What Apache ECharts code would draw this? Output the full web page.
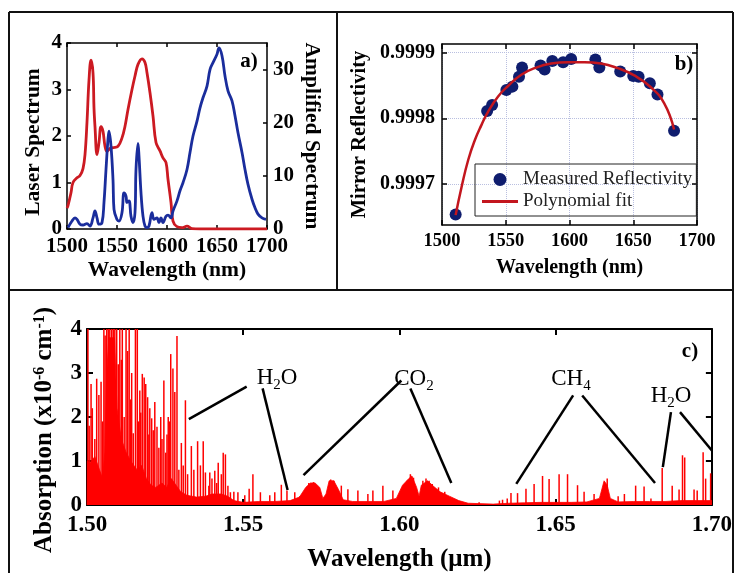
<!DOCTYPE html>
<html>
<head>
<meta charset="utf-8">
<script src="https://cdn.jsdelivr.net/npm/echarts@6.0.0/dist/echarts.min.js"></script>
<style>
    html, body { margin: 0; padding: 0; background: #fff; }
    #main { width: 735px; height: 573px; }
</style>
</head>
<body>
<div id="main"></div>
<script>
// a) laser / amplified spectra, [wavelength nm, value]
var laserSpectrum = [
    [1500, 0.45], [1501, 0.5], [1504, 0.78], [1506, 1.0], [1510, 1.1], [1513, 1.15], [1516, 1.3],
    [1518, 1.6], [1520, 2.3], [1522, 3.2], [1524, 3.63], [1526, 3.36], [1527, 2.6], [1528, 2.2],
    [1530, 1.6], [1532, 1.86], [1534, 2.2], [1536, 2.1], [1538, 1.78], [1540, 1.67], [1543, 1.73],
    [1546, 1.75], [1551, 1.78], [1555, 1.96], [1558, 2.21], [1561, 2.57], [1565, 3.0], [1568, 3.29],
    [1571, 3.54], [1575, 3.66], [1578, 3.58], [1580, 3.36], [1583, 2.93], [1586, 2.43], [1589, 1.86],
    [1593, 1.68], [1596, 1.53], [1599, 1.43], [1601, 1.07], [1604, 0.57], [1606, 0.17], [1610, 0.05],
    [1615, 0.03], [1620, 0.06], [1625, 0.01], [1633, 0], [1700, 0]
];
var amplifiedSpectrum = [
    [1501, 0.25], [1505, 1.5], [1508, 2.1], [1510, 1.8], [1513, 0.9], [1516, 0.75], [1520, 1.0],
    [1523, 0.56], [1526, 2.1], [1528, 3.4], [1530, 2.1], [1532, 0.9], [1535, 1.2], [1537, 5.0],
    [1539, 11.2], [1541, 16.9], [1542, 18.4], [1544, 15.6], [1546, 9.3], [1547, 3.7], [1550, 1.8],
    [1552, 1.5], [1555, 3.1], [1557, 6.8], [1559, 6.2], [1560, 5.0], [1562, 5.3], [1564, 2.4],
    [1566, 1.2], [1568, 3.1], [1569, 11.2], [1571, 16.1], [1572, 13.7], [1574, 6.8], [1576, 2.4],
    [1578, 0.56], [1580, 0.25], [1582, 0.56], [1585, 3.1], [1587, 1.8], [1590, 2.1], [1592, 1.2],
    [1594, 2.1], [1596, 1.2], [1599, 2.4], [1601, 2.6], [1604, 2.1], [1606, 3.4], [1610, 5.3],
    [1613, 7.2], [1616, 8.7], [1620, 11.2], [1623, 14.4], [1626, 17.5], [1630, 20.3], [1633, 22.8],
    [1636, 24.7], [1640, 26.9], [1643, 30.0], [1646, 31.3], [1650, 32.9], [1652, 34.1], [1655, 32.6],
    [1658, 28.8], [1661, 26.0], [1665, 24.1], [1668, 21.3], [1671, 18.1], [1675, 14.4], [1678, 11.2],
    [1681, 8.4], [1685, 5.6], [1688, 4.0], [1691, 2.8], [1695, 2.1], [1699, 1.8]
];

// b) mirror reflectivity
var mirrorMeasured = [
    [1510.7, 0.999654], [1535.4, 0.999811], [1539.3, 0.999820], [1550.5, 0.999843], [1555.2, 0.999848],
    [1560.4, 0.999863], [1562.8, 0.999877], [1577.3, 0.999880], [1580.5, 0.999874], [1586.5, 0.999887],
    [1595.0, 0.999885], [1601.3, 0.999890], [1620.3, 0.999889], [1623.4, 0.999877], [1639.8, 0.999871],
    [1650.0, 0.999864], [1654.2, 0.999863], [1663.0, 0.999853], [1669.0, 0.999836], [1682.0, 0.999781]
];
var mirrorFit = [
    [1510.7, 0.999653], [1515.4, 0.999696], [1520.6, 0.999737], [1525.8, 0.999767], [1531.0, 0.999790],
    [1536.2, 0.999810], [1544.0, 0.999833], [1551.8, 0.999849], [1562.2, 0.999866], [1572.7, 0.999876],
    [1585.7, 0.999883], [1598.7, 0.999885], [1611.7, 0.999885], [1624.7, 0.999883], [1637.8, 0.999876],
    [1650.8, 0.999865], [1663.8, 0.999847], [1674.2, 0.999823], [1682.0, 0.999783]
];
var reflectivityTicks = [0.9997, 0.9998, 0.9999];

// c) absorption spectrum, [wavelength um, 1e-6 cm-1]
var absorptionLines = [
    [1.5003, 4], [1.5007, 1.8], [1.5013, 2.75], [1.5017, 2.2], [1.5020, 1.0], [1.5025, 1.5],
    [1.5031, 2.87], [1.5038, 2.5], [1.5045, 2.8], [1.5050, 1.9], [1.5054, 4],
    [1.5058, 3.85], [1.5063, 4], [1.5068, 4], [1.5073, 4], [1.5079, 4], [1.5084, 4], [1.5089, 4],
    [1.5095, 4], [1.5100, 3.2], [1.5105, 4], [1.5110, 3.3], [1.5113, 4], [1.5119, 2.0], [1.5125, 4],
    [1.5130, 3.5], [1.5135, 4], [1.5140, 2.4], [1.5143, 3.0], [1.5148, 1.63], [1.5155, 4], [1.5161, 4],
    [1.5165, 1.9], [1.5169, 2.6], [1.5172, 2.1], [1.5177, 2.98], [1.5183, 2.9], [1.5188, 2.75],
    [1.5194, 2.45], [1.5198, 1.6], [1.5201, 2.2], [1.5207, 1.97], [1.5212, 1.7], [1.5217, 2.34],
    [1.5224, 1.78], [1.5230, 1.3], [1.5236, 2.0], [1.5240, 1.5], [1.5246, 2.83], [1.5252, 1.19],
    [1.5256, 1.6], [1.5260, 2.0], [1.5264, 1.9], [1.5268, 3.43], [1.5275, 3.1], [1.5281, 2.57],
    [1.5288, 3.84], [1.5294, 0.8], [1.5302, 1.41], [1.5308, 0.9], [1.5315, 2.38], [1.5322, 0.7],
    [1.5334, 1.34], [1.5342, 0.8], [1.5354, 1.45], [1.5363, 0.9], [1.5372, 1.45], [1.5379, 0.74],
    [1.5390, 0.44], [1.5393, 0.74], [1.5400, 0.6], [1.5409, 0.78], [1.5415, 0.5], [1.5420, 0.96],
    [1.5430, 0.7], [1.5436, 1.19], [1.5443, 1.15], [1.5451, 0.44], [1.5459, 0.29], [1.5470, 0.3],
    [1.5483, 0.29], [1.5505, 0.22], [1.5519, 0.37], [1.5531, 0.7], [1.5555, 0.29],
    [1.5585, 0.22], [1.5601, 0.29], [1.5622, 0.46], [1.5640, 0.33], [1.5665, 0.29], [1.5681, 0.2],
    [1.5710, 0.5], [1.5725, 0.52], [1.5780, 0.58], [1.5790, 0.55],
    [1.5814, 0.44], [1.5835, 0.36], [1.5867, 0.33], [1.5899, 0.25], [1.5915, 0.33], [1.5947, 0.44],
    [1.5979, 0.33], [1.6025, 0.55], [1.6035, 0.7], [1.6045, 0.62], [1.6075, 0.55], [1.6085, 0.6],
    [1.6095, 0.55], [1.6105, 0.48], [1.6125, 0.4], [1.6145, 0.3],
    [1.6255, 0.06], [1.6320, 0.1], [1.6330, 0.12], [1.6345, 0.15],
    [1.6357, 0.27], [1.6378, 0.27], [1.6405, 0.37], [1.6431, 0.48], [1.6458, 0.66], [1.6479, 0.59],
    [1.6511, 0.7], [1.6538, 0.7], [1.6570, 0.45], [1.6591, 0.3], [1.6623, 0.25], [1.6665, 0.6],
    [1.6700, 0.2], [1.6720, 0.25], [1.6756, 0.44], [1.6783, 0.42], [1.6805, 0.15], [1.6841, 0.84],
    [1.6873, 0.44], [1.6895, 0.35], [1.6906, 1.13], [1.6913, 1.08], [1.6943, 0.35], [1.6953, 0.33],
    [1.6972, 1.2], [1.6980, 0.6], [1.6996, 0.72]
];
// filled background under the lines
var absorptionFloor = [
    [1.5000, 0], [1.5001, 1.0], [1.5010, 0.95], [1.5025, 1.1], [1.5040, 0.8], [1.5050, 0.6],
    [1.5057, 1.2], [1.5063, 3.0], [1.5070, 3.8], [1.5088, 3.8], [1.5096, 2.2], [1.5110, 1.5],
    [1.5125, 1.2], [1.5140, 1.0], [1.5150, 0.9], [1.5160, 0.8], [1.5175, 0.9], [1.5190, 0.6],
    [1.5205, 0.45], [1.5220, 0.4], [1.5240, 0.5], [1.5255, 0.4], [1.5270, 0.6], [1.5285, 0.45],
    [1.5300, 0.3], [1.5320, 0.22], [1.5350, 0.18], [1.5380, 0.2], [1.5400, 0.25], [1.5430, 0.25],
    [1.5450, 0.2], [1.5470, 0.1], [1.5500, 0.06], [1.5550, 0.08], [1.5600, 0.08], [1.5650, 0.1],
    [1.5680, 0.18], [1.5700, 0.4], [1.5715, 0.5], [1.5730, 0.5], [1.5745, 0.4], [1.5755, 0.15],
    [1.5765, 0.25], [1.5775, 0.55], [1.5790, 0.55], [1.5805, 0.35], [1.5820, 0.12], [1.5850, 0.08],
    [1.5900, 0.08], [1.5950, 0.08], [1.5990, 0.15], [1.6010, 0.45], [1.6030, 0.6], [1.6040, 0.66],
    [1.6055, 0.4], [1.6063, 0.2], [1.6070, 0.45], [1.6090, 0.55], [1.6110, 0.42], [1.6130, 0.3],
    [1.6160, 0.2], [1.6190, 0.1], [1.6220, 0.04], [1.6300, 0.02], [1.6350, 0.04], [1.6400, 0.05],
    [1.6450, 0.06], [1.6500, 0.06], [1.6550, 0.06], [1.6600, 0.07], [1.6640, 0.15], [1.6655, 0.55],
    [1.6665, 0.45], [1.6675, 0.15], [1.6700, 0.07], [1.6750, 0.08], [1.6800, 0.08], [1.6850, 0.08],
    [1.6900, 0.1], [1.6950, 0.1], [1.7000, 0.1]
];

var FONT = "'Liberation Serif', 'Times New Roman', serif";

function txt(size, weight) {
    return { fontFamily: FONT, fontSize: size, fontWeight: weight || 'bold', color: '#000' };
}

// one axis of a boxed panel; mirror = the opposite side, ticks only
function boxAxis(grid, pos, min, max, interval, lineW, tickLen, fontSize, mirror) {
    return {
        gridIndex: grid,
        type: 'value',
        position: pos,
        min: min,
        max: max,
        interval: interval,
        axisLine: { show: true, onZero: false, lineStyle: { color: '#000', width: lineW } },
        axisTick: { show: true, inside: true, length: tickLen, lineStyle: { color: '#000', width: lineW } },
        axisLabel: {
            show: !mirror, margin: 7, fontFamily: FONT, fontSize: fontSize, fontWeight: 'bold', color: '#000',
            formatter: function (v) { return String(v); }
        },
        splitLine: { show: false }
    };
}

var xA0 = boxAxis(0, 'bottom', 1500, 1700, 50, 1.5, 4, 21);
xA0.name = 'Wavelength (nm)';
xA0.nameLocation = 'middle';
xA0.nameGap = 30;
xA0.nameTextStyle = txt(21.5);
var xA1 = boxAxis(0, 'top', 1500, 1700, 50, 1.5, 4, 21, true);

var xB0 = boxAxis(1, 'bottom', 1500, 1700, 50, 1.5, 5, 18.5);
xB0.splitLine = { show: true, lineStyle: { color: '#b9bfe0', type: 'dotted', width: 1 } };
xB0.name = 'Wavelength (nm)';
xB0.nameLocation = 'middle';
xB0.nameGap = 33;
xB0.nameTextStyle = txt(20);
var xB1 = boxAxis(1, 'top', 1500, 1700, 50, 1.5, 5, 18.5, true);

var xC0 = boxAxis(2, 'bottom', 1.5, 1.7, 0.05, 2, 6, 23);
xC0.axisLabel.formatter = function (v) { return v.toFixed(2); };
xC0.axisLabel.margin = 9;
xC0.name = 'Wavelength (\u03bcm)';
xC0.nameLocation = 'middle';
xC0.nameGap = 42;
xC0.nameTextStyle = txt(25);
var xC1 = boxAxis(2, 'top', 1.5, 1.7, 0.05, 2, 6, 23, true);

var yA0 = boxAxis(0, 'left', 0, 4, 1, 1.5, 4, 21);
yA0.axisLabel.margin = 5;
yA0.name = 'Laser Spectrum';
yA0.nameLocation = 'middle';
yA0.nameGap = 23;
yA0.nameTextStyle = txt(21.5);
yA0.nameTextStyle.padding = [0, 12, 0, 0];
var yA1 = boxAxis(0, 'right', 0, 35, 10, 1.5, 4, 21);
yA1.axisLabel.showMaxLabel = false;
yA1.axisLabel.margin = 6;
yA1.name = 'Amplified Spectrum';
yA1.nameLocation = 'middle';
yA1.nameRotate = -90;
yA1.nameGap = 34;
yA1.nameTextStyle = txt(21.5);

var yB0 = boxAxis(1, 'left', 0.999638, 0.9999127, null, 1.5, 5, 20);
yB0.axisLabel.customValues = reflectivityTicks;
yB0.axisLabel.formatter = function (v) { return v.toFixed(4); };
yB0.axisTick.customValues = reflectivityTicks;
yB0.splitLine = { show: true, lineStyle: { color: '#b9bfe0', type: 'dotted', width: 1 } };
yB0.name = 'Mirror Reflectivity';
yB0.nameLocation = 'middle';
yB0.nameGap = 72;
yB0.nameTextStyle = txt(20.5);
var yB1 = boxAxis(1, 'right', 0.999638, 0.9999127, null, 1.5, 5, 20, true);
yB1.axisTick.customValues = reflectivityTicks;

var yC0 = boxAxis(2, 'left', 0, 4, 1, 2, 6, 23);
yC0.axisLabel.margin = 5;
yC0.name = '{b|Absorption (x10}{p|-6}{b| cm}{p|-1}{b|)}';
yC0.nameLocation = 'middle';
yC0.nameGap = 30;
yC0.nameTextStyle = {
    fontFamily: FONT, fontSize: 25, fontWeight: 'bold', color: '#000',
    padding: [0, 26, 0, 0],
    rich: {
        b: { fontFamily: FONT, fontSize: 25, fontWeight: 'bold', color: '#000', lineHeight: 25, padding: [8, 0, 0, 0], verticalAlign: 'bottom' },
        p: { fontFamily: FONT, fontSize: 16, fontWeight: 'bold', color: '#000', lineHeight: 16, verticalAlign: 'top' }
    }
};
var yC1 = boxAxis(2, 'right', 0, 4, 1, 2, 6, 23, true);

var chemRich = {
    n: { fontFamily: FONT, fontSize: 23, color: '#111', lineHeight: 24, verticalAlign: 'top' },
    s: { fontFamily: FONT, fontSize: 15, color: '#111', lineHeight: 15, padding: [14, 0, 0, 0] }
};

function chem(text, x, y) {
    return { type: 'text', x: x, y: y + 2.5, style: { text: text, align: 'center', verticalAlign: 'middle', rich: chemRich } };
}

function frameLine(x1, y1, x2, y2) {
    return { type: 'line', shape: { x1: x1, y1: y1, x2: x2, y2: y2 }, style: { stroke: '#111', lineWidth: 2 } };
}

function panelTag(text, x, y) {
    return { type: 'text', x: x, y: y, style: { text: text, align: 'center', verticalAlign: 'middle', font: 'bold 21px ' + FONT, fill: '#000' } };
}

var option = {
    backgroundColor: '#fff',
    animation: false,
    grid: [
        { left: 67, top: 43, width: 200, height: 186 },
        { left: 442, top: 44, width: 255, height: 181 },
        { left: 87, top: 329, width: 626, height: 179 }
    ],
    xAxis: [xA0, xA1, xB0, xB1, xC0, xC1],
    yAxis: [yA0, yA1, yB0, yB1, yC0, yC1],
    legend: {
        left: 475,
        top: 164,
        orient: 'vertical',
        align: 'left',
        selectedMode: false,
        borderColor: '#222',
        borderWidth: 1,
        padding: [6, 4, 5, 7],
        itemGap: 3,
        itemWidth: 36,
        itemHeight: 13,
        textStyle: { fontFamily: FONT, fontSize: 19, color: '#222' },
        data: [
            { name: 'Measured Reflectivity', icon: 'circle' },
            { name: 'Polynomial fit', icon: 'path://M0,0L36,0L36,3L0,3Z' }
        ]
    },
    graphic: [
        frameLine(9, 12, 733, 12),
        frameLine(9, 12, 9, 573),
        frameLine(733, 12, 733, 573),
        frameLine(337, 12, 337, 290),
        frameLine(9, 290, 733, 290),
        panelTag('a)', 249, 62),
        panelTag('b)', 684, 65),
        panelTag('c)', 690, 352),
        chem('{n|H}{s|2}{n|O}', 277, 376),
        chem('{n|CO}{s|2}', 414, 377),
        chem('{n|CH}{s|4}', 571, 377),
        chem('{n|H}{s|2}{n|O}', 671, 394)
    ],
    series: [
        {
            name: 'Laser Spectrum', type: 'line', xAxisIndex: 0, yAxisIndex: 0,
            data: laserSpectrum, showSymbol: false, smooth: 0.4,
            lineStyle: { color: '#cc1a22', width: 2.8 }
        },
        {
            name: 'Amplified Spectrum', type: 'line', xAxisIndex: 0, yAxisIndex: 1,
            data: amplifiedSpectrum, showSymbol: false, smooth: 0.4,
            lineStyle: { color: '#1a2d9c', width: 2.8 }
        },
        {
            name: 'Polynomial fit', type: 'line', xAxisIndex: 2, yAxisIndex: 2,
            data: mirrorFit, symbol: 'none', smooth: true,
            itemStyle: { color: '#c3161e' },
            lineStyle: { color: '#c3161e', width: 2.5 }
        },
        {
            name: 'Measured Reflectivity', type: 'scatter', xAxisIndex: 2, yAxisIndex: 2,
            data: mirrorMeasured, symbolSize: 12,
            itemStyle: { color: '#0f1d6e', opacity: 1 }
        },
        {
            name: 'floor', type: 'line', xAxisIndex: 4, yAxisIndex: 4,
            data: absorptionFloor, symbol: 'none',
            lineStyle: { color: '#ff0000', width: 0.8 },
            areaStyle: { color: '#ff0000', opacity: 1 },
            markLine: {
                silent: true,
                symbol: ['none', 'none'],
                label: { show: false },
                lineStyle: { color: '#000', width: 2.5, type: 'solid' },
                data: [
                    [{ coord: [1.5326, 1.95] }, { coord: [1.5511, 2.69] }],
                    [{ coord: [1.5562, 2.65] }, { coord: [1.5642, 0.34] }],
                    [{ coord: [1.5693, 0.68] }, { coord: [1.6006, 2.83] }],
                    [{ coord: [1.6035, 2.65] }, { coord: [1.6166, 0.50] }],
                    [{ coord: [1.6556, 2.49] }, { coord: [1.6374, 0.48] }],
                    [{ coord: [1.6585, 2.49] }, { coord: [1.6818, 0.50] }],
                    [{ coord: [1.6869, 2.11] }, { coord: [1.6843, 0.86] }],
                    [{ coord: [1.6898, 2.11] }, { coord: [1.7000, 1.24] }]
                ]
            }
        },
        {
            name: 'lines', type: 'bar', xAxisIndex: 4, yAxisIndex: 4,
            data: absorptionLines, barWidth: 1.5,
            itemStyle: { color: '#ff0000' }
        }
    ]
};

var chart = echarts.init(document.querySelector('#main'));
chart.setOption(option);
</script>
</body>
</html>
